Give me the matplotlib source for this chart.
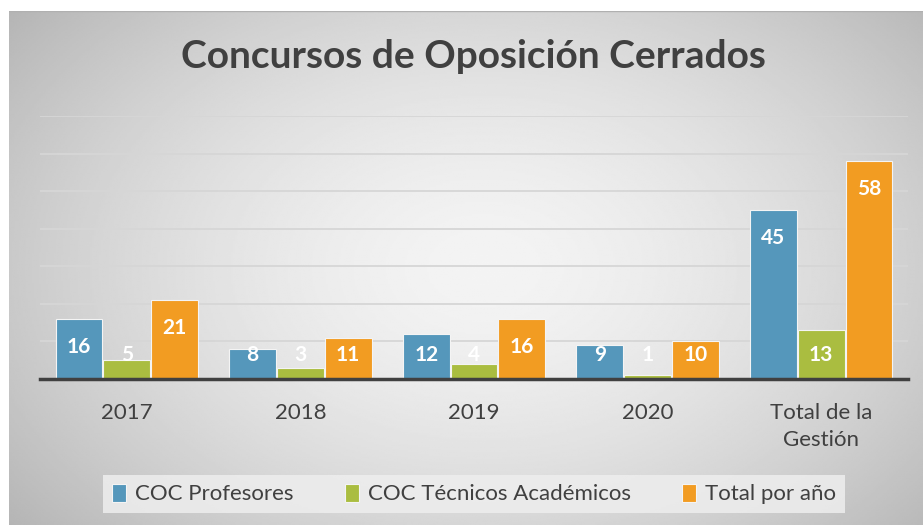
"""
Concursos de Oposicion Cerrados - grouped bar chart.
"""

# %% imports
import numpy as np
import matplotlib
matplotlib.use('Agg')
import matplotlib.pyplot as plt
from matplotlib.patches import Patch


# %% data
categories = ['2017', '2018', '2019', '2020', 'Total de la\nGestión']
series_names = ['COC Profesores', 'COC Técnicos Académicos', 'Total por año']
profesores = [16, 8, 12, 9, 45]
tecnicos = [5, 3, 4, 1, 13]
totales = [21, 11, 16, 10, 58]
title = 'Concursos de Oposición Cerrados'


# %% style
W, H = 923, 525
colors = ['#5597BB', '#AABD40', '#F29C22']
textColor = '#404040'
plt.rcParams['font.family'] = ['Lato', 'DejaVu Sans']

fig = plt.figure(figsize=(W / 100, H / 100), dpi=100)
fig.patch.set_facecolor('white')

# radial grey gradient background of the chart area
bg = fig.add_axes([9 / W, 0, 1 - 9 / W, 1 - 11 / H])
yy, xx = np.mgrid[0:1:300j, 0:1:500j]
r = np.sqrt(((xx - 0.52) / 0.62) ** 2 + ((yy - 0.5) / 0.75) ** 2)
shade = 0.955 - 0.22 * np.clip(r, 0, 1.2) ** 1.6
bg.imshow(shade, cmap='gray', vmin=0, vmax=1, aspect='auto',
          extent=[0, 1, 0, 1], interpolation='bilinear')
bg.axhline(1, color='#b0b0b0', lw=1)
bg.axis('off')


# %% bars
ax = fig.add_axes([40 / W, (H - 379) / H, 868 / W, (379 - 116) / H])
ax.patch.set_alpha(0)
x = np.arange(len(categories))
width = 0.27
offsets = [-0.275, 0, 0.275]

for vals, off, col, name in zip([profesores, tecnicos, totales], offsets, colors, series_names):
    bars = ax.bar(x + off, vals, width, color=col, edgecolor='#f4f4f4',
                  linewidth=0.8, label=name, zorder=3)
    for b, v in zip(bars, vals):
        ax.text(b.get_x() + b.get_width() / 2, max(v - 7.4, 6.4), str(v),
                ha='center', va='center', color='white', fontsize=15,
                fontweight='bold', zorder=4)

ax.set_xlim(-0.5, len(categories) - 0.5)
ax.set_ylim(0, 70)
ax.set_yticks(np.arange(10, 71, 10))
ax.yaxis.grid(True, color='#d6d6d6', lw=1.3, zorder=0)
ax.tick_params(axis='y', left=False, labelleft=False)
ax.set_xticks(x)
ax.set_xticklabels(categories, fontsize=16, color=textColor, linespacing=1.45)
ax.tick_params(axis='x', length=0, pad=17)
for s in ['top', 'right', 'left']:
    ax.spines[s].set_visible(False)
ax.spines['bottom'].set_color(textColor)
ax.spines['bottom'].set_linewidth(2.5)
ax.spines['bottom'].set_zorder(5)


# %% title and legend
fig.text(473 / W, 1 - 57 / H, title, ha='center', va='center',
         fontsize=28, fontweight='bold', color=textColor)

handles = [Patch(facecolor=c, edgecolor='#f4f4f4', lw=0.8) for c in colors]
leg = fig.legend(handles, series_names, loc='center', ncol=3,
                 bbox_to_anchor=(474 / W, 1 - 494 / H), fontsize=16,
                 frameon=True, fancybox=False, facecolor='#eeeeee',
                 edgecolor='none', framealpha=0.85, handlelength=0.65,
                 handleheight=0.9, handletextpad=0.4, columnspacing=2.3,
                 borderpad=0.4, borderaxespad=0)
for t in leg.get_texts():
    t.set_color(textColor)

fig.savefig('out.png', dpi=100)
